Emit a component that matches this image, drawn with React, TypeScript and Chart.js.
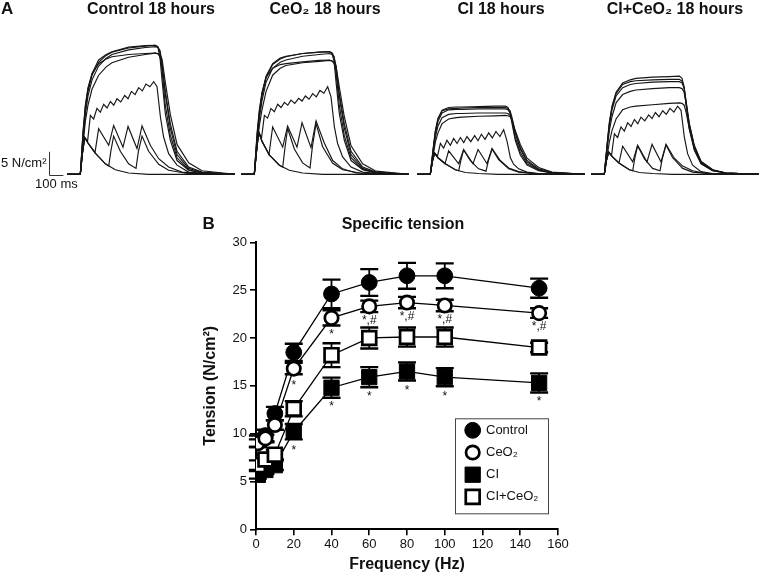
import React, { useEffect, useRef } from 'react';
import { Chart, registerables } from 'chart.js';

Chart.register(...registerables);

const FONT = "'Liberation Sans', Arial, Helvetica, sans-serif";
Chart.defaults.font.family = FONT;
Chart.defaults.color = '#111';

// ---------------- Panel B: specific tension (N/cm²) vs stimulation frequency ----------------
const FREQ_HZ = [1, 5, 10, 20, 40, 60, 80, 100, 150];
const CONTROL_MEAN = [9.2, 9.8, 12.1, 18.5, 24.6, 25.8, 26.5, 26.5, 25.2];
const CONTROL_SEM = [0.6, 0.6, 0.7, 0.9, 1.5, 1.4, 1.35, 1.3, 1.0];
const CEO2_MEAN = [9.0, 9.5, 10.9, 16.8, 22.1, 23.3, 23.7, 23.4, 22.6];
const CEO2_SEM = [0.4, 0.4, 0.5, 0.6, 0.8, 0.6, 0.6, 0.6, 0.5];
const CI_MEAN = [5.7, 6.2, 6.7, 10.2, 14.8, 15.9, 16.5, 15.9, 15.3];
const CI_SEM = [0.4, 0.4, 0.5, 0.8, 1.05, 1.05, 0.95, 0.95, 1.0];
const CICEO2_MEAN = [6.7, 7.3, 7.8, 12.6, 18.2, 20.0, 20.1, 20.1, 19.0];
const CICEO2_SEM = [0.5, 0.5, 0.5, 0.8, 1.25, 1.1, 1.0, 1.0, 0.5];
const CEO2_SIG = ['', '', '', '*', '*', '*,#', '*,#', '*,#', '*,#'];
const CI_SIG = ['', '', '', '*', '*', '*', '*', '*', '*'];
const GROUP_LABELS = ['Control', 'CeO₂', 'CI', 'CI+CeO₂'];
const X_TICKS = [0, 20, 40, 60, 80, 100, 120, 140, 160];
const Y_TICKS = [0, 5, 10, 15, 20, 25, 30];

// ---------------- Panel A: force traces (time in ms, tension in N/cm²) ----------------
const PANEL_TITLES = ['Control 18 hours', 'CeO₂ 18 hours', 'CI 18 hours', 'CI+CeO₂ 18 hours'];

const TWITCH_MS = [0, 95, 110, 126, 150, 202, 274, 345, 440, 583, 1200];
const PULSE5_MS = [0, 95, 110, 126, 150, 202, 274, 298, 313, 333, 381, 440, 493, 510, 536, 583, 655, 726, 869, 1200];
const PULSE10_MS = [0, 95, 110, 126, 150, 200, 226, 298, 333, 400, 436, 500, 536, 595, 655, 726, 821, 1000, 1200];
const PULSE20_MS = [0, 95, 110, 126, 147, 167, 190, 214, 238, 262, 286, 310, 334, 357, 384, 412, 436, 460, 486, 512, 538, 564, 592, 619, 643, 667, 690, 726, 786, 869, 1000, 1200];
const TETANUS_MS = [0, 95, 115, 131, 150, 179, 226, 280, 321, 440, 560, 631, 650, 665, 679, 702, 738, 786, 869, 964, 1200];

const CTRL_TWITCH = [0, 0, 4.5, 8.0, 6.8, 4.6, 2.3, 1.0, 0.3, 0, 0];
const CTRL_5HZ = [0, 0, 4.5, 8.0, 6.8, 4.6, 2.3, 1.8, 5.0, 8.3, 5.0, 2.3, 1.3, 5.0, 8.3, 5.0, 2.2, 0.9, 0.15, 0];
const CTRL_10HZ = [0, 0, 4.5, 8.0, 6.8, 4.7, 9.9, 6.3, 10.6, 5.9, 10.4, 5.6, 10.5, 6.3, 3.4, 1.6, 0.5, 0.1, 0];
const CTRL_20HZ = [0, 0, 4.5, 8.0, 7.2, 12.8, 12.0, 14.3, 13.5, 15.2, 14.4, 15.8, 15.0, 16.4, 15.7, 17.1, 16.4, 18.0, 17.3, 18.8, 18.1, 19.6, 19.0, 20.1, 19.0, 12.5, 8.1, 4.5, 2.0, 0.5, 0.1, 0];
const CTRL_40HZ = [0, 0, 6.5, 11.5, 15.0, 18.5, 21.5, 23.3, 24.2, 25.4, 26.0, 26.3, 26.2, 25.9, 25.0, 20.0, 13.0, 6.5, 2.5, 0.8, 0];
const CTRL_60HZ = [0, 0, 7.5, 13.0, 17.0, 20.5, 23.5, 25.2, 26.0, 27.0, 27.5, 27.7, 27.5, 26.8, 24.0, 17.5, 10.0, 4.3, 1.3, 0.4, 0];
const CTRL_80HZ = [0, 0, 8.5, 14.0, 18.0, 21.5, 24.3, 25.8, 26.5, 27.4, 27.8, 28.0, 27.7, 26.3, 22.5, 15.0, 8.5, 3.6, 1.0, 0.3, 0];
const CTRL_100HZ = [0, 0, 9.0, 14.6, 18.5, 21.9, 24.8, 26.0, 26.6, 27.6, 27.9, 28.0, 27.5, 25.0, 20.4, 13.2, 7.4, 3.0, 0.9, 0.3, 0];
const CTRL_150HZ = [0, 0, 9.5, 15.0, 18.8, 21.8, 24.0, 25.0, 25.5, 26.0, 26.2, 26.3, 26.1, 25.5, 23.5, 18.0, 11.0, 5.0, 1.6, 0.5, 0];

const CEO2_TWITCH = [0, 0, 4.8, 9.2, 7.2, 4.2, 2.0, 0.9, 0.3, 0, 0];
const CEO2_5HZ = [0, 0, 4.8, 9.2, 7.2, 4.2, 2.0, 1.6, 5.5, 10.0, 5.5, 2.5, 1.4, 6.0, 11.0, 6.0, 2.4, 1.0, 0.2, 0];
const CEO2_10HZ = [0, 0, 4.8, 9.2, 7.2, 4.3, 10.3, 5.9, 10.5, 5.9, 11.2, 5.8, 11.6, 6.8, 3.0, 1.2, 0.3, 0.1, 0];
const CEO2_20HZ = [0, 0, 4.8, 9.2, 8.0, 12.8, 12.2, 14.3, 13.6, 15.2, 14.5, 15.6, 15.0, 16.1, 15.4, 16.5, 15.9, 17.0, 16.3, 17.5, 16.8, 18.2, 17.6, 19.0, 16.8, 10.3, 6.7, 3.8, 1.6, 0.5, 0.1, 0];
const CEO2_40HZ = [0, 0, 6.0, 10.5, 14.0, 18.0, 21.5, 23.0, 23.6, 24.2, 24.5, 24.7, 24.6, 24.3, 23.5, 19.0, 12.5, 6.2, 2.3, 0.7, 0];
const CEO2_60HZ = [0, 0, 7.0, 12.0, 16.0, 20.0, 23.0, 24.3, 24.8, 25.6, 26.0, 26.2, 26.0, 25.5, 23.5, 17.0, 10.0, 4.3, 1.3, 0.4, 0];
const CEO2_80HZ = [0, 0, 8.0, 13.0, 17.0, 21.0, 23.8, 25.0, 25.5, 26.2, 26.5, 26.6, 26.4, 25.5, 22.0, 15.0, 8.4, 3.6, 1.1, 0.3, 0];
const CEO2_100HZ = [0, 0, 8.5, 13.5, 17.5, 21.3, 24.0, 25.2, 25.6, 26.2, 26.5, 26.6, 26.2, 24.5, 20.0, 13.2, 7.4, 3.0, 1.0, 0.3, 0];
const CEO2_150HZ = [0, 0, 9.0, 14.0, 17.8, 21.0, 23.0, 23.8, 24.0, 24.4, 24.7, 24.8, 24.6, 24.0, 22.5, 17.5, 11.0, 5.0, 1.6, 0.5, 0];

const CI_TWITCH = [0, 0, 2.8, 4.6, 3.6, 2.3, 1.0, 0.4, 0.2, 0, 0];
const CI_5HZ = [0, 0, 2.8, 4.6, 3.6, 2.3, 1.0, 0.8, 3.0, 5.3, 3.0, 1.2, 0.7, 3.0, 5.5, 3.2, 1.2, 0.5, 0.1, 0];
const CI_10HZ = [0, 0, 2.8, 4.6, 3.6, 2.3, 5.1, 2.3, 5.4, 2.3, 5.4, 2.3, 5.6, 3.0, 1.4, 0.6, 0.2, 0.1, 0];
const CI_20HZ = [0, 0, 2.8, 4.6, 4.0, 6.7, 5.7, 7.4, 6.3, 7.8, 6.7, 8.0, 6.9, 8.2, 7.1, 8.4, 7.3, 8.7, 7.6, 9.0, 7.9, 9.3, 8.2, 9.7, 7.2, 3.6, 2.2, 1.2, 0.5, 0.2, 0.1, 0];
const CI_40HZ = [0, 0, 4.0, 7.0, 9.0, 11.0, 12.0, 12.3, 12.4, 12.6, 12.7, 12.8, 12.7, 12.5, 11.8, 9.5, 6.5, 3.5, 1.5, 0.5, 0];
const CI_60HZ = [0, 0, 4.5, 8.0, 10.5, 12.3, 13.0, 13.2, 13.2, 13.3, 13.3, 13.3, 13.2, 12.8, 11.8, 9.0, 5.8, 3.0, 1.2, 0.4, 0];
const CI_80HZ = [0, 0, 5.0, 8.8, 11.5, 13.3, 14.0, 14.1, 14.1, 14.2, 14.2, 14.2, 14.0, 13.3, 11.5, 8.0, 4.8, 2.3, 0.9, 0.3, 0];
const CI_100HZ = [0, 0, 5.3, 9.2, 12.0, 13.9, 14.5, 14.6, 14.6, 14.7, 14.8, 14.8, 14.5, 13.2, 11.0, 7.4, 4.2, 2.0, 0.8, 0.3, 0];
const CI_150HZ = [0, 0, 5.5, 9.5, 12.2, 13.8, 14.2, 14.3, 14.4, 14.5, 14.5, 14.5, 14.3, 13.8, 12.3, 9.0, 5.5, 2.7, 1.0, 0.4, 0];

const CICEO2_TWITCH = [0, 0, 3.0, 4.85, 3.9, 2.4, 1.0, 0.4, 0.2, 0, 0];
const CICEO2_5HZ = [0, 0, 3.0, 4.85, 3.9, 2.4, 1.0, 0.8, 3.5, 6.2, 3.4, 1.3, 0.8, 3.5, 6.4, 3.6, 1.3, 0.5, 0.1, 0];
const CICEO2_10HZ = [0, 0, 3.0, 4.85, 3.9, 2.5, 6.1, 2.7, 6.3, 2.7, 6.5, 2.7, 6.5, 3.5, 1.8, 0.8, 0.2, 0.1, 0];
const CICEO2_20HZ = [0, 0, 3.0, 4.85, 4.2, 8.8, 8.0, 10.3, 9.4, 11.2, 10.4, 11.9, 11.0, 12.4, 11.6, 12.9, 12.1, 13.4, 12.5, 13.8, 13.0, 14.3, 13.5, 14.8, 13.9, 8.0, 4.5, 2.0, 0.6, 0.2, 0.1, 0];
const CICEO2_40HZ = [0, 0, 4.0, 7.0, 9.5, 12.0, 14.0, 14.6, 14.8, 15.1, 15.4, 15.5, 15.4, 15.0, 13.5, 10.0, 6.0, 2.8, 1.0, 0.3, 0];
const CICEO2_60HZ = [0, 0, 5.5, 9.5, 12.5, 15.5, 17.3, 18.0, 18.3, 18.6, 18.8, 18.8, 18.6, 17.8, 15.5, 11.0, 6.3, 2.8, 1.0, 0.3, 0];
const CICEO2_80HZ = [0, 0, 6.0, 10.5, 14.0, 17.0, 18.8, 19.5, 19.7, 20.0, 20.1, 20.1, 19.8, 18.8, 16.0, 11.0, 6.0, 2.6, 0.9, 0.3, 0];
const CICEO2_100HZ = [0, 0, 6.3, 11.0, 14.5, 17.5, 19.5, 20.1, 20.3, 20.5, 20.6, 20.6, 20.2, 18.8, 15.5, 10.2, 5.5, 2.4, 0.8, 0.3, 0];
const CICEO2_150HZ = [0, 0, 6.5, 11.3, 14.8, 17.8, 19.8, 20.5, 20.8, 21.1, 21.2, 21.3, 20.8, 19.0, 15.0, 9.8, 5.2, 2.3, 0.8, 0.3, 0];

// scale bar: 100 ms x 5 N/cm²
const SCALE_BAR_MS = [-126, -26];
const SCALE_BAR_N = [-0.1, 4.9];

type Trace = { t: number[]; v: number[] };

function buildTraces(tw: number[], p5: number[], p10: number[], p20: number[], t40: number[], t60: number[], t80: number[], t100: number[], t150: number[]): Trace[] {
  return [
    { t: TWITCH_MS, v: tw },
    { t: PULSE5_MS, v: p5 },
    { t: PULSE10_MS, v: p10 },
    { t: PULSE20_MS, v: p20 },
    { t: TETANUS_MS, v: t40 },
    { t: TETANUS_MS, v: t60 },
    { t: TETANUS_MS, v: t80 },
    { t: TETANUS_MS, v: t100 },
    { t: TETANUS_MS, v: t150 },
  ];
}

const PANELS = [
  { title: PANEL_TITLES[0], left: 0, padLeft: 67, scaleBar: true, letter: 'A',
    traces: buildTraces(CTRL_TWITCH, CTRL_5HZ, CTRL_10HZ, CTRL_20HZ, CTRL_40HZ, CTRL_60HZ, CTRL_80HZ, CTRL_100HZ, CTRL_150HZ) },
  { title: PANEL_TITLES[1], left: 241, padLeft: 0, scaleBar: false, letter: '',
    traces: buildTraces(CEO2_TWITCH, CEO2_5HZ, CEO2_10HZ, CEO2_20HZ, CEO2_40HZ, CEO2_60HZ, CEO2_80HZ, CEO2_100HZ, CEO2_150HZ) },
  { title: PANEL_TITLES[2], left: 417, padLeft: 0, scaleBar: false, letter: '',
    traces: buildTraces(CI_TWITCH, CI_5HZ, CI_10HZ, CI_20HZ, CI_40HZ, CI_60HZ, CI_80HZ, CI_100HZ, CI_150HZ) },
  { title: PANEL_TITLES[3], left: 591, padLeft: 0, scaleBar: false, letter: '',
    traces: buildTraces(CICEO2_TWITCH, CICEO2_5HZ, CICEO2_10HZ, CICEO2_20HZ, CICEO2_40HZ, CICEO2_60HZ, CICEO2_80HZ, CICEO2_100HZ, CICEO2_150HZ) },
];

const TRACE_W = 168;
const TRACE_H = 192;

function TracePanel({ panel }: { panel: any }) {
  const ref = useRef<HTMLCanvasElement>(null);
  const width = panel.padLeft + TRACE_W;
  useEffect(() => {
    const datasets: any[] = panel.traces.map((tr: Trace) => ({
      data: tr.t.map((t, i) => ({ x: t, y: tr.v[i] })),
      showLine: true,
      borderColor: '#161616',
      borderWidth: 1.15,
      pointRadius: 0,
      tension: 0,
    }));
    const labelsPlugin = {
      id: 'panelLabels',
      afterDraw(chart: any) {
        const { ctx } = chart;
        ctx.save();
        ctx.fillStyle = '#111';
        if (panel.letter) {
          ctx.font = `bold 17px ${FONT}`;
          ctx.textAlign = 'left';
          ctx.textBaseline = 'middle';
          ctx.fillText(panel.letter, 1, 9);
        }
        if (panel.scaleBar) {
          const xs = chart.scales.x;
          const ys = chart.scales.y;
          const bx = Math.round(xs.getPixelForValue(SCALE_BAR_MS[0])) + 0.5;
          const bx2 = xs.getPixelForValue(SCALE_BAR_MS[1]);
          const byBot = Math.round(ys.getPixelForValue(SCALE_BAR_N[0])) + 0.5;
          const byTop = ys.getPixelForValue(SCALE_BAR_N[1]);
          ctx.strokeStyle = '#333';
          ctx.lineWidth = 1;
          ctx.beginPath();
          ctx.moveTo(bx, byTop);
          ctx.lineTo(bx, byBot);
          ctx.lineTo(bx2, byBot);
          ctx.stroke();
          ctx.font = `13px ${FONT}`;
          ctx.textBaseline = 'middle';
          ctx.textAlign = 'right';
          ctx.fillText('5 N/cm²', bx - 3, (byTop + byBot) / 2);
          ctx.textAlign = 'center';
          ctx.fillText('100 ms', (bx + bx2) / 2, byBot + 9);
        }
        ctx.restore();
      },
    };
    const chart = new Chart(ref.current as HTMLCanvasElement, {
      type: 'scatter',
      data: { datasets },
      options: {
        responsive: false,
        animation: false,
        events: [],
        layout: { padding: { left: panel.padLeft, right: 0, top: 0, bottom: 13 } },
        plugins: {
          legend: { display: false },
          tooltip: { enabled: false },
          title: {
            display: true,
            text: panel.title,
            color: '#111',
            font: { size: 16, weight: 'bold', family: FONT },
            padding: { top: 0, bottom: 16.8 },
          },
        },
        scales: {
          x: { type: 'linear', display: false, min: 0, max: 1200 },
          y: { type: 'linear', display: false, min: -1, max: 30 },
        },
      } as any,
      plugins: [labelsPlugin],
    });
    return () => chart.destroy();
  }, []);
  return (
    <canvas
      ref={ref}
      width={width}
      height={TRACE_H}
      style={{ position: 'absolute', left: panel.left, top: 0, width, height: TRACE_H, display: 'block' }}
    />
  );
}

// ---------------- Panel B chart ----------------
const SERIES = [
  { label: GROUP_LABELS[0], mean: CONTROL_MEAN, sem: CONTROL_SEM, sig: null as string[] | null, shape: 'circle', filled: true, radius: 7.9, pbw: 1, order: 3 },
  { label: GROUP_LABELS[1], mean: CEO2_MEAN, sem: CEO2_SEM, sig: CEO2_SIG, shape: 'circle', filled: false, radius: 6.7, pbw: 2.7, order: 1 },
  { label: GROUP_LABELS[2], mean: CI_MEAN, sem: CI_SEM, sig: CI_SIG, shape: 'rect', filled: true, radius: 10.8, pbw: 1, order: 4 },
  { label: GROUP_LABELS[3], mean: CICEO2_MEAN, sem: CICEO2_SEM, sig: null as string[] | null, shape: 'rect', filled: false, radius: 9.8, pbw: 2.7, order: 2 },
];

const B_W = 430;
const B_H = 378;

function drawMarker(ctx: CanvasRenderingContext2D, s: any, x: number, y: number) {
  ctx.save();
  ctx.fillStyle = s.filled ? '#000' : '#fff';
  ctx.strokeStyle = '#000';
  ctx.lineWidth = s.pbw;
  ctx.beginPath();
  if (s.shape === 'circle') {
    ctx.arc(x, y, s.radius, 0, Math.PI * 2);
  } else {
    const h = s.radius * Math.SQRT1_2;
    ctx.rect(x - h, y - h, 2 * h, 2 * h);
  }
  ctx.fill();
  ctx.stroke();
  ctx.restore();
}

function TensionChart() {
  const ref = useRef<HTMLCanvasElement>(null);
  useEffect(() => {
    const datasets: any[] = SERIES.map((s) => ({
      label: s.label,
      data: FREQ_HZ.map((f, i) => ({ x: f, y: s.mean[i] })),
      showLine: true,
      borderColor: '#000',
      borderWidth: 1.3,
      tension: 0,
      pointStyle: s.shape,
      pointRadius: s.radius,
      pointBackgroundColor: s.filled ? '#000' : '#fff',
      pointBorderColor: '#000',
      pointBorderWidth: s.pbw,
      order: s.order,
    }));

    const errorBars = {
      id: 'errorBars',
      beforeDatasetsDraw(chart: any) {
        const { ctx } = chart;
        const xs = chart.scales.x;
        const ys = chart.scales.y;
        ctx.save();
        ctx.strokeStyle = '#000';
        SERIES.forEach((s) => {
          s.mean.forEach((m, i) => {
            const px = xs.getPixelForValue(FREQ_HZ[i]);
            const top = ys.getPixelForValue(m + s.sem[i]);
            const bot = ys.getPixelForValue(m - s.sem[i]);
            ctx.lineWidth = 1.8;
            ctx.beginPath();
            ctx.moveTo(px, top);
            ctx.lineTo(px, bot);
            ctx.stroke();
            ctx.lineWidth = 2.4;
            ctx.beginPath();
            ctx.moveTo(px - 9, top);
            ctx.lineTo(px + 9, top);
            ctx.moveTo(px - 9, bot);
            ctx.lineTo(px + 9, bot);
            ctx.stroke();
          });
        });
        ctx.restore();
      },
    };

    const decorations = {
      id: 'decorations',
      afterDraw(chart: any) {
        const { ctx, chartArea } = chart;
        const xs = chart.scales.x;
        const ys = chart.scales.y;
        ctx.save();
        ctx.fillStyle = '#111';
        // significance marks
        ctx.font = `12px ${FONT}`;
        ctx.textAlign = 'center';
        ctx.textBaseline = 'middle';
        SERIES.forEach((s, si) => {
          if (!s.sig) return;
          s.sig.forEach((txt, i) => {
            if (!txt) return;
            const px = xs.getPixelForValue(FREQ_HZ[i]);
            const py = ys.getPixelForValue(s.mean[i]);
            const off = (si === 1 ? 14 : 16) + (txt === '*' ? 3 : 0);
            ctx.fillText(txt, px, py + off);
          });
        });
        // legend box
        const bw = 93;
        const bh = 95;
        const bx = chartArea.right - 10 - bw;
        const by = chartArea.bottom - 16 - bh;
        ctx.fillStyle = '#fff';
        ctx.fillRect(bx, by, bw, bh);
        ctx.strokeStyle = '#444';
        ctx.lineWidth = 1;
        ctx.strokeRect(bx + 0.5, by + 0.5, bw, bh);
        ctx.font = `13px ${FONT}`;
        ctx.textAlign = 'left';
        ctx.textBaseline = 'middle';
        SERIES.forEach((s, i) => {
          const ey = by + 12 + i * 22.2;
          drawMarker(ctx, s, bx + 17.7, ey);
          ctx.fillStyle = '#111';
          ctx.fillText(s.label, bx + 31, ey);
        });
        // titles
        ctx.font = `bold 17px ${FONT}`;
        ctx.textAlign = 'left';
        ctx.fillText('B', 52.5, 28);
        ctx.font = `bold 16px ${FONT}`;
        ctx.textAlign = 'center';
        ctx.fillText('Specific tension', 253, 29);
        ctx.restore();
      },
    };

    const chart = new Chart(ref.current as HTMLCanvasElement, {
      type: 'scatter',
      data: { datasets },
      options: {
        responsive: false,
        animation: false,
        events: [],
        layout: { padding: { left: 0, right: 22, top: 46.3, bottom: 0 } },
        plugins: {
          legend: { display: false },
          tooltip: { enabled: false },
          title: { display: false },
        },
        scales: {
          x: {
            type: 'linear',
            min: 0,
            max: 160,
            afterBuildTicks: (s: any) => { s.ticks = X_TICKS.map((v) => ({ value: v })); },
            afterFit: (s: any) => { s.height = 44.7; },
            grid: { display: true, drawOnChartArea: false, drawTicks: true, tickLength: 6, color: '#000', lineWidth: 1.6 },
            border: { display: true, color: '#000', width: 2 },
            ticks: { font: { size: 13, family: FONT }, color: '#111', padding: 1, maxRotation: 0, autoSkip: false },
            title: { display: true, text: 'Frequency (Hz)', color: '#111', font: { size: 16, weight: 'bold', family: FONT }, padding: { top: 0, bottom: 0 } },
          },
          y: {
            type: 'linear',
            min: 0,
            max: 30,
            afterBuildTicks: (s: any) => { s.ticks = Y_TICKS.map((v) => ({ value: v })); },
            afterFit: (s: any) => { s.width = 106; },
            grid: { display: true, drawOnChartArea: false, drawTicks: true, tickLength: 6, color: '#000', lineWidth: 1.6 },
            border: { display: true, color: '#000', width: 2 },
            ticks: { font: { size: 13, family: FONT }, color: '#111', padding: 3, autoSkip: false },
            title: { display: true, text: 'Tension (N/cm²)', color: '#111', font: { size: 16, weight: 'bold', family: FONT }, padding: { top: 51, bottom: 0 } },
          },
        },
      } as any,
      plugins: [errorBars, decorations],
    });
    return () => chart.destroy();
  }, []);
  return (
    <canvas
      ref={ref}
      width={B_W}
      height={B_H}
      style={{ position: 'absolute', left: 150, top: 196, width: B_W, height: B_H, display: 'block' }}
    />
  );
}

export default function App() {
  return (
    <div style={{ position: 'absolute', left: 0, top: 0, width: 760, height: 574, background: '#fff', overflow: 'hidden' }}>
      {PANELS.map((p, i) => (
        <TracePanel key={i} panel={p} />
      ))}
      <TensionChart />
    </div>
  );
}
